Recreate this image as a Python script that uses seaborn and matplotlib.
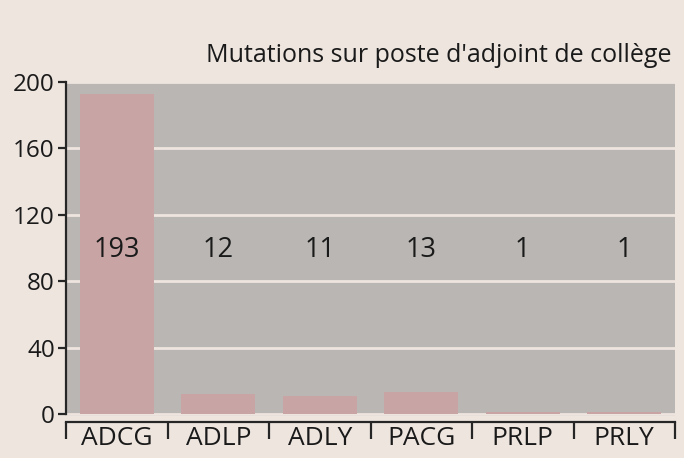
import matplotlib
matplotlib.use("Agg")
import matplotlib.pyplot as plt
import seaborn as sns
import pandas as pd

# Data
categories = ["ADCG", "ADLP", "ADLY", "PACG", "PRLP", "PRLY"]
values = [193, 12, 11, 13, 1, 1]
y_ticks = [0, 40, 80, 120, 160, 200]

df = pd.DataFrame({"cat": categories, "n": values})

beige = "#EEE5DF"
gray = "#BAB6B3"
pink = "#C9A4A5"
ink = "#1a1a1a"

sns.set_style("white")
plt.rcParams["font.family"] = ["Open Sans", "DejaVu Sans"]

fig = plt.figure(figsize=(6.84, 4.58), dpi=100, facecolor=beige)
ax = fig.add_axes([66 / 684, 1 - 416 / 458, (675 - 66) / 684, (416 - 82) / 458])
ax.set_facecolor(gray)

sns.barplot(x="cat", y="n", data=df, color=pink, saturation=1, width=0.73,
            linewidth=0, edgecolor="none", ax=ax, zorder=3)

# value labels in the middle of the plot
for i, v in enumerate(values):
    ax.text(i, 99, str(v), ha="center", va="center", fontsize=19.5, color=ink, zorder=4)

ax.set_ylim(-1.2, 200)
ax.set_xlim(-0.5, 5.5)
ax.set_yticks(y_ticks)
ax.yaxis.grid(True, color=beige, lw=2, zorder=1)
ax.set_axisbelow(True)

for s in ["top", "right"]:
    ax.spines[s].set_visible(False)
ax.spines["left"].set_bounds(0, 200)
ax.spines["left"].set_linewidth(1.6)
ax.spines["bottom"].set_position(("outward", 4))
ax.spines["bottom"].set_linewidth(1.6)

ax.tick_params(axis="y", length=6, width=1.6, labelsize=17.5, pad=2, left=True, labelcolor=ink)
ax.tick_params(axis="x", which="major", length=0, labelsize=19, pad=3, labelcolor=ink)
ax.set_xticks([i - 0.5 for i in range(len(categories) + 1)], minor=True)
ax.tick_params(axis="x", which="minor", length=12, width=1.6, bottom=True)

ax.set_xlabel("")
ax.set_ylabel("")

fig.text(672 / 684, 1 - 55 / 458, "Mutations sur poste d'adjoint de collège",
         ha="right", va="center", fontsize=18, color=ink)

fig.savefig("out.png", dpi=100, facecolor=beige)
